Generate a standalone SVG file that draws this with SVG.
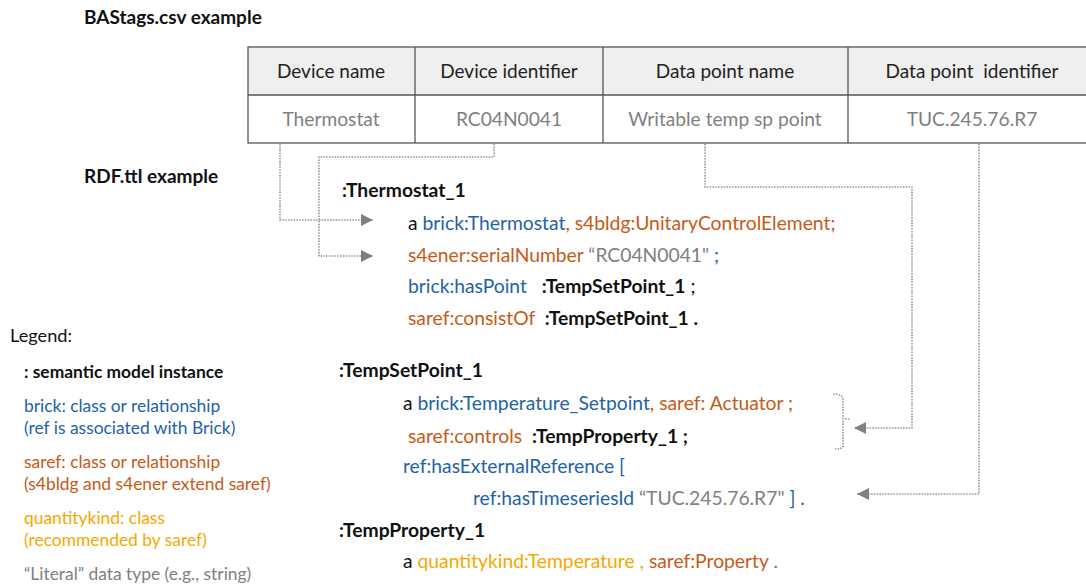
<svg xmlns="http://www.w3.org/2000/svg" width="1086" height="585" viewBox="0 0 1086 585">
  <defs>
    <style>
      text { font-family: Lato, "Liberation Sans", sans-serif; }
      .title { font-size: 19px; font-weight: bold; fill: #111; }
      .hdr { font-size: 19px; fill: #222; text-anchor: middle; }
      .cell { font-size: 19.2px; fill: #7f7f7f; text-anchor: middle; }
      .ttl { font-size: 19.3px; fill: #111; }
      .b { font-weight: bold; fill: #111; }
      .blue { fill: #2262a8; }
      .orange { fill: #c65a17; }
      .amber { fill: #f5a800; }
      .grey { fill: #808080; }
      .leg { font-size: 17.4px; }
      .grid { fill: none; stroke: #555; stroke-width: 1.3; }
      .dot { fill: none; stroke: #9a9a9a; stroke-width: 1.6; stroke-dasharray: 1.6 1.2; }
    </style>
    <marker id="arr" viewBox="0 0 12 12" refX="12" refY="6" markerWidth="12" markerHeight="12" markerUnits="userSpaceOnUse" orient="auto">
      <path d="M0,0 L12,6 L0,12 Z" fill="#808080"/>
    </marker>
  </defs>

  <rect width="1086" height="585" fill="#fff"/>

  <text class="title" x="84" y="24">BAStags.csv example</text>
  <text class="title" x="84" y="183">RDF.ttl example</text>

  <!-- CSV table -->
  <g id="table">
    <rect x="248" y="47" width="848" height="48" fill="#efefef"/>
    <rect x="248" y="47" width="848" height="96" class="grid"/>
    <line x1="248" y1="95" x2="1096" y2="95" class="grid"/>
    <line x1="415" y1="47" x2="415" y2="143" class="grid"/>
    <line x1="603" y1="47" x2="603" y2="143" class="grid"/>
    <line x1="848" y1="47" x2="848" y2="143" class="grid"/>
    <text class="hdr" x="331" y="78">Device name</text>
    <text class="hdr" x="509" y="78">Device identifier</text>
    <text class="hdr" x="725" y="78">Data point name</text>
    <text class="hdr" x="972" y="78" xml:space="preserve">Data point  identifier</text>
    <text class="cell" x="331" y="126">Thermostat</text>
    <text class="cell" x="509" y="126">RC04N0041</text>
    <text class="cell" x="725" y="126">Writable temp sp point</text>
    <text class="cell" x="972" y="126">TUC.245.76.R7</text>
  </g>

  <!-- dotted mapping connectors -->
  <g id="connectors">
    <path class="dot" d="M280,144 V220 H373" marker-end="url(#arr)"/>
    <path class="dot" d="M494,144 V157 H319 V256 H373" marker-end="url(#arr)"/>
    <path class="dot" d="M705,144 V187 H912 V428 H854" marker-end="url(#arr)"/>
    <path class="dot" d="M979,144 V494 H857" marker-end="url(#arr)"/>
    <path class="dot" d="M833,394 Q843,394 843,400 V446 Q843,449 835,449"/>
    <path class="dot" d="M845,419 H850"/>
  </g>

  <!-- Thermostat instance -->
  <g id="thermostat">
    <text class="ttl b" x="342" y="197">:Thermostat_1</text>
    <text class="ttl" x="408" y="230">a <tspan class="blue">brick:Thermostat</tspan><tspan class="orange">, s4bldg:UnitaryControlElement;</tspan></text>
    <text class="ttl" x="408" y="262"><tspan class="orange">s4ener:serialNumber</tspan><tspan class="grey"> “RC04N0041"</tspan><tspan class="blue"> ;</tspan></text>
    <text class="ttl" x="408" y="293" xml:space="preserve"><tspan class="blue">brick:hasPoint</tspan>   <tspan class="b">:TempSetPoint_1</tspan> ;</text>
    <text class="ttl" x="408" y="325" xml:space="preserve"><tspan class="orange">saref:consistOf</tspan>  <tspan class="b">:TempSetPoint_1</tspan> <tspan class="b">.</tspan></text>
  </g>

  <!-- TempSetPoint instance -->
  <g id="tempsetpoint">
    <text class="ttl b" x="339" y="377">:TempSetPoint_1</text>
    <text class="ttl" x="403" y="410">a <tspan class="blue">brick:Temperature_Setpoint</tspan><tspan class="orange">, saref: Actuator ;</tspan></text>
    <text class="ttl" x="408" y="443" xml:space="preserve"><tspan class="orange">saref:controls</tspan>  <tspan class="b">:TempProperty_1 ;</tspan></text>
    <text class="ttl blue" x="403" y="473">ref:hasExternalReference [</text>
    <text class="ttl" x="473" y="505"><tspan class="blue">ref:hasTimeseriesId</tspan><tspan class="grey"> “TUC.245.76.R7"</tspan><tspan class="blue"> ] .</tspan></text>
  </g>

  <!-- TempProperty instance -->
  <g id="tempproperty">
    <text class="ttl b" x="339" y="537">:TempProperty_1</text>
    <text class="ttl" x="403" y="568">a <tspan class="amber">quantitykind:Temperature , </tspan><tspan class="orange">saref:Property .</tspan></text>
  </g>

  <!-- Legend -->
  <g id="legend">
    <text x="10" y="342" font-size="18.2" fill="#111">Legend:</text>
    <text class="leg b" x="24" y="378">: semantic model instance</text>
    <text class="leg blue" x="24" y="412">brick: class or relationship</text>
    <text class="leg blue" x="24" y="434">(ref is associated with Brick)</text>
    <text class="leg orange" x="24" y="468">saref: class or relationship</text>
    <text class="leg orange" x="24" y="490">(s4bldg and s4ener extend saref)</text>
    <text class="leg amber" x="24" y="524">quantitykind: class</text>
    <text class="leg amber" x="24" y="546">(recommended by saref)</text>
    <text class="leg grey" x="24" y="580">“Literal” data type (e.g., string)</text>
  </g>
</svg>
